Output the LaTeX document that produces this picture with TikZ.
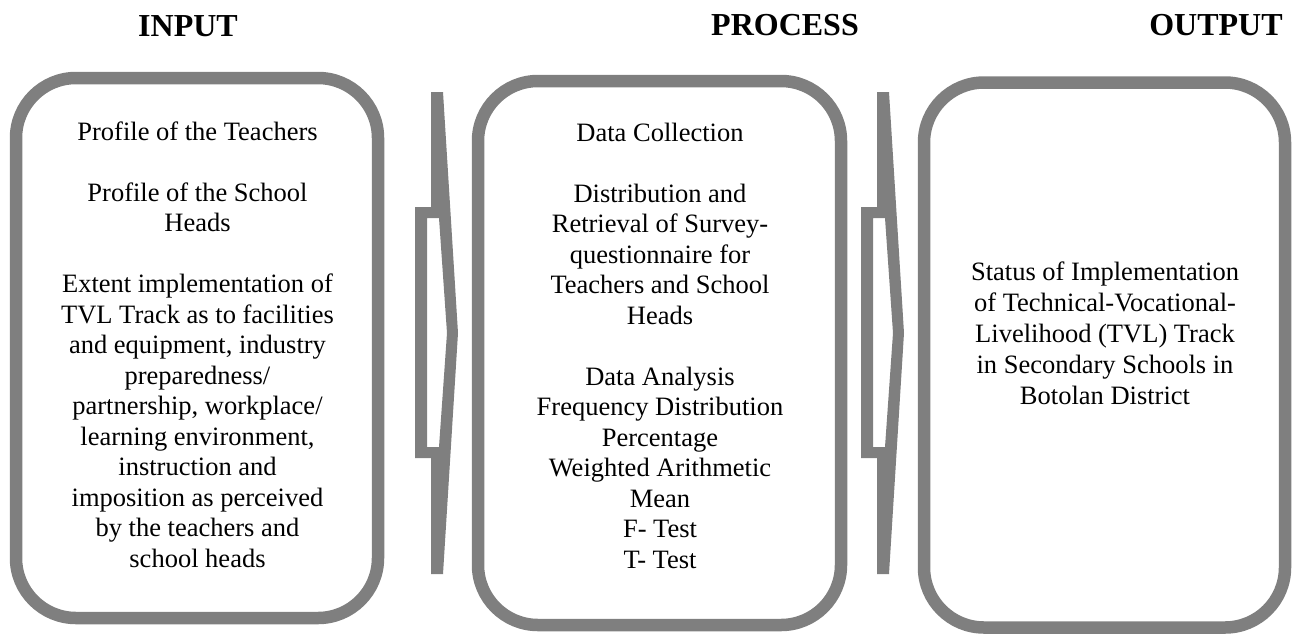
\documentclass[tikz,border=0pt]{standalone}
\usepackage{fontspec}
\setmainfont{Liberation Serif}
\definecolor{shapegray}{RGB}{127,127,127}
\begin{document}
\begin{tikzpicture}[x=1pt,y=-1pt,
  frame/.style={draw=shapegray, line width=12.5pt, rounded corners=60pt,
    inner sep=0pt, outer sep=0pt},
  body/.style={align=center, inner sep=0pt, anchor=north,
    font=\fontsize{26.5}{30.5}\selectfont},
  head/.style={anchor=base, inner sep=0pt,
    font=\fontsize{32}{36}\selectfont\bfseries},
  chevron/.style={fill=shapegray, draw=none, even odd rule}]
\useasboundingbox (0,0) rectangle (1293,633);

% headings
\node[head] (hin)  at (188,36) {INPUT};
\node[head] (hpro) at (785,35) {PROCESS};
\node[head] (hout) at (1216,35) {OUTPUT};

% rounded frames
\node[frame, minimum width=362pt, minimum height=540pt] (input)   at (197,348) {};
\node[frame, minimum width=363pt, minimum height=544pt] (process) at (659.5,353) {};
\node[frame, minimum width=361pt, minimum height=545pt] (output)  at (1104.5,355) {};

% hollow chevron arrows between the frames
\foreach \dx in {0, 446} {
  \begin{scope}[xshift=\dx pt]
    \path[chevron] (431,92) -- (443,92) -- (458,333) -- (443,574) -- (431,574)
      -- (431,458) -- (415,458) -- (415,207) -- (431,207) -- cycle
      (427,218) -- (439,218) -- (447,333) -- (439,447) -- (427,447) -- cycle;
  \end{scope}
}

% frame texts (north anchor = first baseline minus strut height)
\node[body] (intext) at (197.5,118.65) {\strut Profile of the Teachers\\[30.5pt]
  Profile of the School\\Heads\\[30.5pt]
  Extent implementation of\\TVL Track as to facilities\\and equipment, industry\\
  preparedness/\\partnership, workplace/\\learning environment,\\instruction and\\
  imposition as perceived\\by the teachers and\\school heads};

\node[body] (protext) at (660,119.65) {\strut Data Collection\\[30.5pt]
  Distribution and\\Retrieval of Survey-\\questionnaire for\\Teachers and School\\Heads\\[30.5pt]
  Data Analysis\\Frequency Distribution\\Percentage\\Weighted Arithmetic\\Mean\\F- Test\\T- Test};

\node[body, font=\fontsize{26.5}{31}\selectfont] (outtext) at (1105,258.3)
  {\strut Status of Implementation\\of Technical-Vocational-\\Livelihood (TVL) Track\\
  in Secondary Schools in\\Botolan District};
\end{tikzpicture}
\end{document}
